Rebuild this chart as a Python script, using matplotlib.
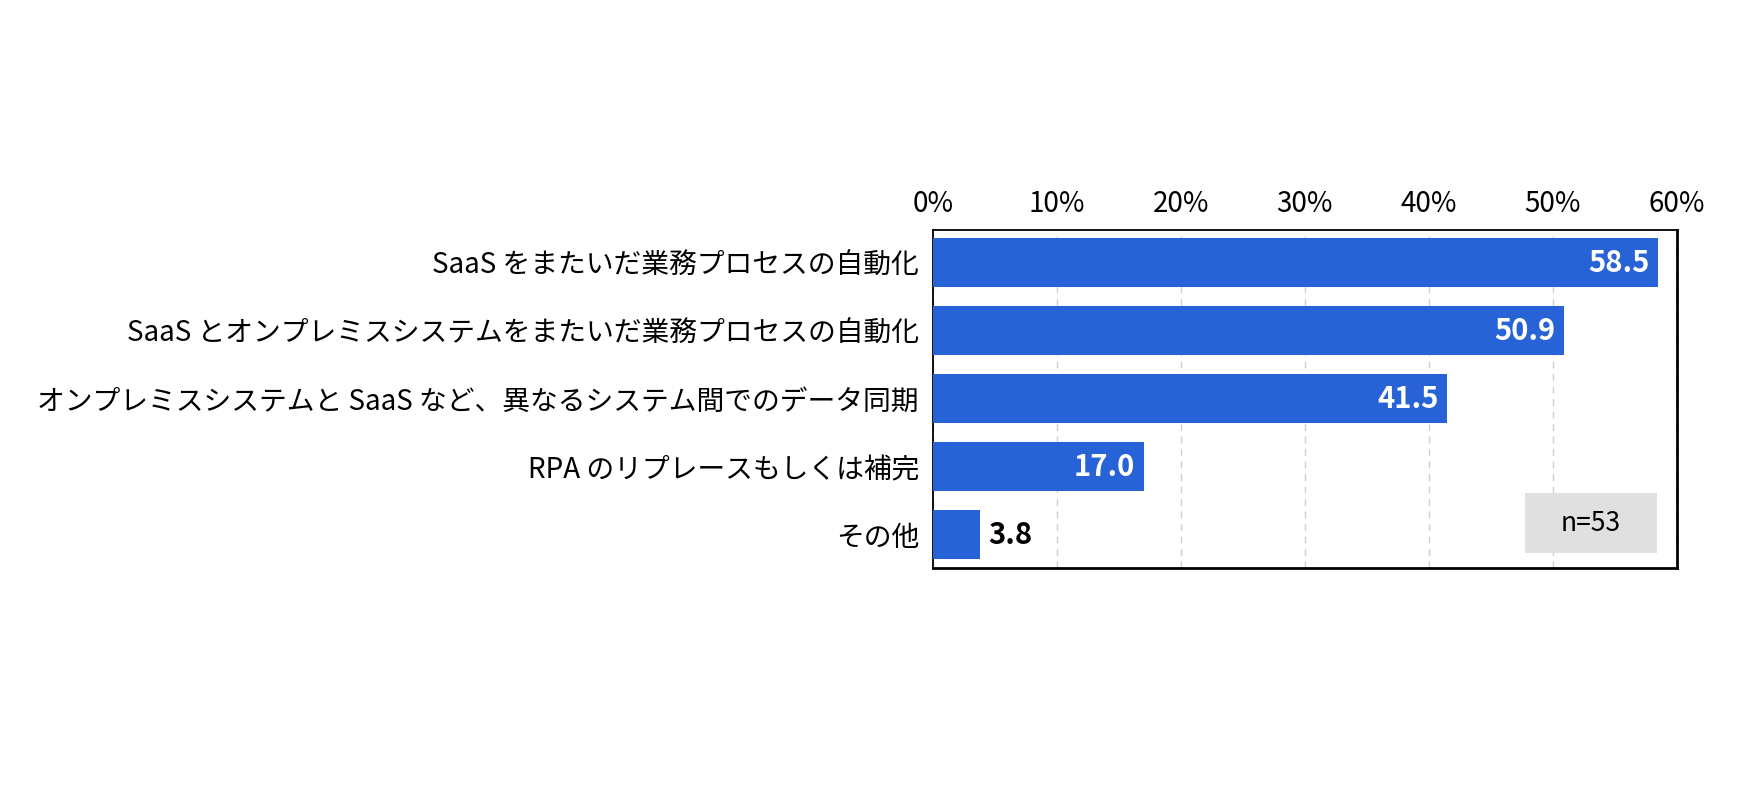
import matplotlib.pyplot as plt
import matplotlib.patches as patches

plt.rcParams['font.family'] = ['Noto Sans CJK JP', 'DejaVu Sans']

# データ
categories = [
    'SaaS をまたいだ業務プロセスの自動化',
    'SaaS とオンプレミスシステムをまたいだ業務プロセスの自動化',
    'オンプレミスシステムと SaaS など、異なるシステム間でのデータ同期',
    'RPA のリプレースもしくは補完',
    'その他',
]
values = [58.5, 50.9, 41.5, 17.0, 3.8]
x_ticks = [0, 10, 20, 30, 40, 50, 60]
n_label = 'n=53'

bar_color = '#2763d6'

fig = plt.figure(figsize=(17.61, 7.96), dpi=100)
ax = fig.add_axes([0.5297, 0.2864, 0.4224, 0.4247])

y = list(range(len(categories)))
ax.barh(y, values, height=0.72, color=bar_color, zorder=3)

ax.set_xlim(0, 60)
ax.set_ylim(4.49, -0.48)

# 目盛り（上側）
ax.xaxis.tick_top()
ax.set_xticks(x_ticks)
ax.set_xticklabels([f'{t}%' for t in x_ticks], fontsize=20)
ax.tick_params(axis='x', length=0, pad=8)
ax.set_yticks(y)
ax.set_yticklabels(categories, fontsize=20)
ax.tick_params(axis='y', length=0, pad=10)

# グリッド
ax.grid(axis='x', linestyle=(0, (5, 4)), color='#d0d0d0', linewidth=1, zorder=0)

for s in ax.spines.values():
    s.set_color('black')
    s.set_linewidth(1.3)
ax.spines['right'].set_linewidth(2)
ax.spines['bottom'].set_linewidth(2)

# 値ラベル
for yi, v in zip(y, values):
    if v > 10:
        ax.text(v - 0.7, yi, f'{v:.1f}', ha='right', va='center',
                color='white', fontsize=21, fontweight='bold', zorder=4)
    else:
        ax.text(v + 0.7, yi, f'{v:.1f}', ha='left', va='center',
                color='black', fontsize=21, fontweight='bold', zorder=4)

# n= ボックス
box = patches.Rectangle((0.796, 0.044), 0.1775, 0.178, transform=ax.transAxes,
                        facecolor='#e0e0e0', edgecolor='none', zorder=5)
ax.add_patch(box)
ax.text(0.885, 0.133, n_label, transform=ax.transAxes, ha='center', va='center',
        fontsize=19, zorder=6)

fig.savefig('out.png', dpi=100)
